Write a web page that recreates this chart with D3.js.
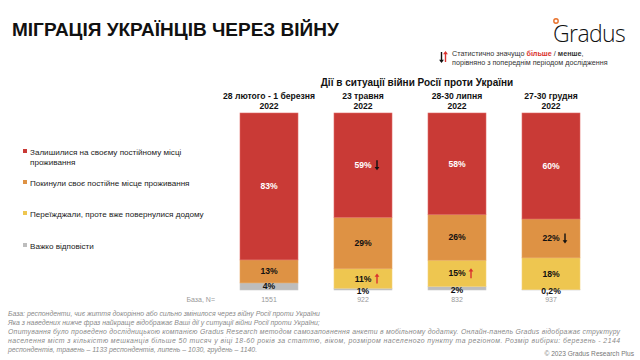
<!DOCTYPE html>
<html><head><meta charset="utf-8">
<script src="https://cdn.jsdelivr.net/npm/d3@7"></script>
<style>body{margin:0;background:#fff}svg{display:block;font-family:"Liberation Sans",Arial,sans-serif}</style>
</head><body><svg id="c" width="640" height="360"></svg>
<script>
const periods = ["28 лютого - 1 березня", "23 травня", "28-30 липня", "27-30 грудня"];
const years = ["2022", "2022", "2022", "2022"];
const bases = ["1551", "922", "832", "937"];
const seriesNames = ["Залишилися на своєму постійному місці проживання", "Покинули своє постійне місце проживання", "Переїжджали, проте вже повернулися додому", "Важко відповісти"];
const stayed = [83, 59, 58, 60];
const leftHome = [13, 29, 26, 22];
const returned = [0, 11, 15, 18];
const hard = [4, 1, 2, 0.2];
// significance: 1 = higher, -1 = lower than previous wave
const stayedSig = [0, -1, 0, 0];
const leftSig = [0, 0, 0, -1];
const returnedSig = [0, 1, 1, 0];
const hardSig = [0, 0, 0, 0];
const colors = ["#C93A36", "#DE9244", "#EEC650", "#BDBDBD"];
const strokes = ["#E06A66", "#E8A560", "#F3D27A", "#C9C9C9"];

const keys = ["s0", "s1", "s2", "s3"];
const seriesVals = [stayed, leftHome, returned, hard];
const seriesSig = [stayedSig, leftSig, returnedSig, hardSig];
const rows = periods.map((p, i) => {
  const r = {period: p};
  keys.forEach((k, j) => r[k] = seriesVals[j][i]);
  return r;
});

const svg = d3.select("#c");
const x = d3.scaleBand().domain(periods).range([240, 580]).paddingInner(0.383).paddingOuter(0);
const y = d3.scaleLinear().domain([0, 1]).range([290, 113]);
const stackKeys = ["s3", "s2", "s1", "s0"];
const stacked = d3.stack().keys(stackKeys).offset(d3.stackOffsetExpand)(rows);

// Title
svg.append("text").attr("x", 12).attr("y", 36).attr("font-size", 19).attr("font-weight", "bold")
  .attr("fill", "#111").text("МІГРАЦІЯ УКРАЇНЦІВ ЧЕРЕЗ ВІЙНУ");

// Logo
svg.append("circle").attr("cx", 556).attr("cy", 21).attr("r", 2.2).attr("fill", "none").attr("stroke", "#E8722C").attr("stroke-width", 1.4);
svg.append("text").attr("x", 553).attr("y", 42).attr("font-family", "'Open Sans',sans-serif").attr("font-weight", 300).attr("font-size", 23)
  .attr("fill", "#111").attr("letter-spacing", -0.6).text("Gradus");

function arrow(g, cx, yTop, yBot, dir, color) {
  const tip = dir < 0 ? yBot : yTop, tail = dir < 0 ? yTop : yBot;
  const hs = dir < 0 ? -3.2 : 3.2;
  g.append("line").attr("x1", cx).attr("x2", cx).attr("y1", tail).attr("y2", tip + hs * 0.5)
    .attr("stroke", color).attr("stroke-width", 1.4);
  g.append("path").attr("d", `M${cx - 2.4},${tip + hs} L${cx + 2.4},${tip + hs} L${cx},${tip} Z`).attr("fill", color);
}
const note = svg.append("g");
arrow(note, 441.5, 52, 63, -1, "#111");
arrow(note, 445.5, 51, 62, 1, "#D9322E");
const nt = note.append("text").attr("x", 452).attr("y", 56).attr("font-size", 7.2).attr("fill", "#333");
nt.append("tspan").text("Статистично значущо ");
nt.append("tspan").attr("fill", "#D9322E").attr("font-weight", "bold").text("більше");
nt.append("tspan").text(" / ");
nt.append("tspan").attr("font-weight", "bold").text("менше");
nt.append("tspan").text(",");
note.append("text").attr("x", 452).attr("y", 65).attr("font-size", 7.2).attr("fill", "#333")
  .text("порівняно з попереднім періодом дослідження");

// chart heading
svg.append("text").attr("x", 417).attr("y", 86).attr("text-anchor", "middle").attr("font-size", 10)
  .attr("font-weight", "bold").attr("fill", "#111").text("Дії в ситуації війни Росії проти України");
const hdr = svg.append("g").selectAll("text").data(periods).join("text")
  .attr("text-anchor", "middle").attr("font-size", 8.6).attr("font-weight", "bold").attr("fill", "#111");
hdr.append("tspan").attr("x", d => x(d) + x.bandwidth() / 2).attr("y", 99).text(d => d);
hdr.append("tspan").attr("x", d => x(d) + x.bandwidth() / 2).attr("y", 109).text((d, i) => years[i]);

// bars
const layers = svg.append("g").selectAll("g").data(stacked).join("g")
  .attr("fill", d => colors[keys.indexOf(d.key)])
  .attr("stroke", d => strokes[keys.indexOf(d.key)]).attr("stroke-width", 0.6);
layers.selectAll("rect").data(d => d).join("rect")
  .attr("x", d => x(d.data.period)).attr("width", x.bandwidth())
  .attr("y", d => y(d[1])).attr("height", d => Math.max(0, y(d[0]) - y(d[1])));

// value labels
const fmt = v => String(v).replace(".", ",") + "%";
const lab = svg.append("g");
stacked.forEach(layer => {
  const si = keys.indexOf(layer.key);
  layer.forEach((d, i) => {
    const v = seriesVals[si][i];
    if (!v) return;
    const cx = x(d.data.period) + x.bandwidth() / 2;
    let cy = (y(d[0]) + y(d[1])) / 2;
    if (si === 3 && i > 0) cy += 1.5;
    lab.append("text").attr("x", cx).attr("y", cy).attr("dy", "0.35em").attr("text-anchor", "middle")
      .attr("font-size", 8.6).attr("font-weight", "bold")
      .attr("fill", si === 0 ? "#fff" : "#111").text(fmt(v));
    const sg = seriesSig[si][i];
    if (sg) arrow(lab, cx + 14, cy - 5, cy + 5, sg, sg < 0 ? "#111" : "#D9322E");
  });
});

// legend
const lg = svg.append("g");
const legY = [152, 183, 214, 246];
seriesNames.forEach((n, i) => {
  lg.append("rect").attr("x", 23).attr("y", legY[i] - 3).attr("width", 4).attr("height", 4).attr("fill", colors[i]);
  const t = lg.append("text").attr("x", 30).attr("y", legY[i] + 2.7).attr("font-size", 8.1).attr("fill", "#222");
  if (i === 0) {
    t.append("tspan").text("Залишилися на своєму постійному місці");
    t.append("tspan").attr("x", 30).attr("dy", 10).text("проживання");
  } else t.text(n);
});

// base row
svg.append("text").attr("x", 215).attr("y", 302).attr("text-anchor", "end").attr("font-size", 7).attr("fill", "#999").text("База, N=");
svg.append("g").selectAll("text").data(periods).join("text")
  .attr("x", d => x(d) + x.bandwidth() / 2).attr("y", 302).attr("text-anchor", "middle")
  .attr("font-size", 7).attr("fill", "#999").text((d, i) => bases[i]);

// footnotes
const foot = [
  ["База: респонденти, чиє життя докорінно або сильно змінилося через війну Росії проти України", 0],
  ["Яка з наведених нижче фраз найкраще відображає Ваші дії у ситуації війни Росії проти України;", 0],
  ["Опитування було проведено дослідницькою компанією Gradus Research методом самозаповнення анкети в мобільному додатку. Онлайн-панель Gradus відображає структуру", 612],
  ["населення міст з кількістю мешканців більше 50 тисяч у віці 18-60 років за статтю, віком, розміром населеного пункту та регіоном. Розмір вибірки: березень - 2144", 612],
  ["респондентів, травень – 1133 респондентів, липень – 1030, грудень – 1140.", 0]
];
foot.forEach((f, i) => {
  const t = svg.append("text").attr("x", 8).attr("y", 316 + i * 9).attr("font-size", 6.9)
    .attr("font-style", "italic").attr("fill", "#8a8a8a").text(f[0]);
  if (f[1]) t.attr("textLength", f[1]).attr("lengthAdjust", "spacing");
});
svg.append("text").attr("x", 634).attr("y", 356).attr("text-anchor", "end").attr("font-size", 6.6)
  .attr("fill", "#777").text("© 2023 Gradus Research Plus");
</script></body></html>
